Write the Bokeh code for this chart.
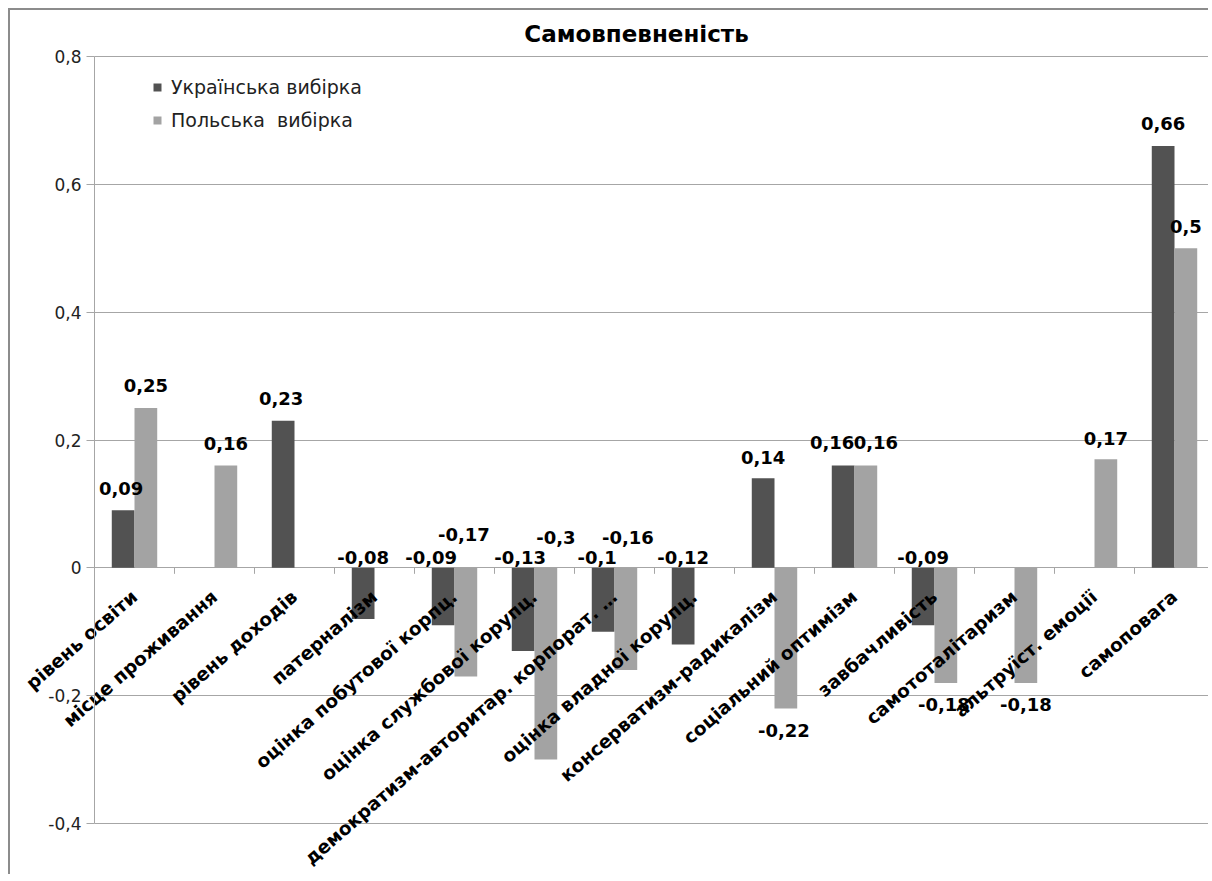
import numpy as np
from bokeh.plotting import figure
from bokeh.models import (Range1d, FixedTicker, CustomJSTickFormatter, ColumnDataSource,
                          Legend, LegendItem, LinearAxis, Label)
from bokeh.core.properties import value
from bokeh.embed import file_html
from bokeh.resources import INLINE

# ---------------- data ----------------
title_text = "Самовпевненість"
categories = ["рівень освіти", "місце проживання", "рівень доходів", "патерналізм",
              "оцінка побутової корпц.", "оцінка службової корупц.",
              "демократизм-авторитар. корпорат. …", "оцінка владної корупц.",
              "консерватизм-радикалізм", "соціальний оптимізм", "завбачливість",
              "самототалітаризм", "альтруїст. емоції", "самоповага"]
series_names = ["Українська вибірка", "Польська  вибірка"]
ukr_values = [0.09, None, 0.23, -0.08, -0.09, -0.13, -0.1, -0.12, 0.14, 0.16, -0.09, None, None, 0.66]
pol_values = [0.25, 0.16, None, None, -0.17, -0.3, -0.16, None, -0.22, 0.16, -0.18, -0.18, 0.17, 0.5]
y_ticks = [-0.4, -0.2, 0, 0.2, 0.4, 0.6, 0.8]

# ---------------- label styling (pixel offsets, anchor choice) ----------------
ukr_lbl_dx = [-2, 0, -2, 0, -12, -3, -6, 0, 0, -11, 0, 0, 0, 0]
ukr_lbl_dy = [-22, 0, -22, -10, -10, -10, -10, -10, -21, -23, -10, 0, 0, -22]
ukr_lbl_zero = [False, False, False, True, True, True, True, True, False, False, True, False, False, False]
pol_lbl_dx = [0, 0, 0, 0, -2, 10, 2, 0, -2, 10, -2, 0, 0, 0]
pol_lbl_dy = [-23, -22, 0, 0, -33, -30, -30, 0, 22, -23, 22, 22, -21, -22]
pol_lbl_zero = [False, False, False, False, True, True, True, False, False, False, False, False, False, False]

UKR_COLOR = "#525252"
POL_COLOR = "#a3a3a3"
GRID_COLOR = "#a6a6a6"
BAR_W = 0.284

# ---------------- layout geometry (pixels on the canvas) ----------------
CANVAS_W, CANVAS_H = 1200, 866
AXIS_X_PX = 84          # y axis line from canvas left
TOP_PX, BOT_PX = 46, 813  # top / bottom value lines from canvas top
CAT_PX = 80             # width of one category

n = len(categories)
centers = np.arange(n) + 0.5

y_lo, y_hi = y_ticks[0], y_ticks[-1]
ppu = (BOT_PX - TOP_PX) / (y_hi - y_lo)
x_start = -AXIS_X_PX / CAT_PX
x_end = (CANVAS_W - AXIS_X_PX) / CAT_PX
y_end = y_hi + TOP_PX / ppu
y_start = y_lo - (CANVAS_H - BOT_PX) / ppu


def fmt(v):
    return f"{v:g}".replace(".", ",")


def series_source(vals, shift, dxs, dys, zero_flags):
    rows = [i for i, v in enumerate(vals) if v is not None]
    return ColumnDataSource(dict(
        x=[centers[i] + shift for i in rows],
        top=[vals[i] for i in rows],
        ly=[0 if zero_flags[i] else vals[i] for i in rows],
        lbl=[fmt(vals[i]) for i in rows],
        dx=[dxs[i] for i in rows],
        dy=[dys[i] for i in rows],
    ))


ukr_src = series_source(ukr_values, -BAR_W / 2, ukr_lbl_dx, ukr_lbl_dy, ukr_lbl_zero)
pol_src = series_source(pol_values, BAR_W / 2, pol_lbl_dx, pol_lbl_dy, pol_lbl_zero)

p = figure(width=CANVAS_W, height=CANVAS_H, output_backend="svg", toolbar_location=None,
           x_range=Range1d(x_start, x_end), y_range=Range1d(y_start, y_end),
           x_axis_location=None, y_axis_location=None,
           min_border=0, min_border_left=0, min_border_right=0,
           min_border_top=0, min_border_bottom=0)
p.styles = {"margin-left": "8px", "margin-top": "8px",
            "border-left": "2px solid #8c8c8c", "border-top": "2px solid #8c8c8c"}
p.outline_line_color = None
p.background_fill_color = "white"
p.border_fill_color = "white"
p.xgrid.visible = False

# horizontal grid limited to the plot area
p.ygrid.ticker = FixedTicker(ticks=y_ticks)
p.ygrid.cross_bounds = (0, x_end)
p.ygrid.grid_line_color = GRID_COLOR
p.ygrid.grid_line_width = 1

# value axis at x = 0
yax = LinearAxis(fixed_location=0, bounds=(y_lo, y_hi), ticker=FixedTicker(ticks=y_ticks),
                 formatter=CustomJSTickFormatter(code="""
    if (Math.abs(tick) < 1e-9) { return "0"; }
    return (Math.round(tick * 10) / 10).toString().replace(".", ",");
"""),
                 major_label_text_font="DejaVu Sans", major_label_text_font_size="17px",
                 major_label_text_color="#222222", major_label_standoff=5,
                 major_tick_out=8, major_tick_in=0, minor_tick_out=0, minor_tick_in=0,
                 axis_line_color=GRID_COLOR, major_tick_line_color=GRID_COLOR)
p.add_layout(yax, "left")

# category axis sitting on the zero line
xax = LinearAxis(fixed_location=0, ticker=FixedTicker(ticks=list(centers)),
                 formatter=CustomJSTickFormatter(args=dict(cats=categories),
                                                 code="return cats[Math.floor(tick)];"),
                 major_label_orientation=np.deg2rad(41),
                 major_label_text_font="DejaVu Sans", major_label_text_font_style="bold",
                 major_label_text_font_size="18.5px", major_label_text_color="#000000",
                 major_label_standoff=26,
                 axis_line_color=None, major_tick_out=0, major_tick_in=0,
                 minor_tick_out=0, minor_tick_in=0)
p.add_layout(xax, "below")

# category boundary ticks below the zero line
bounds = np.arange(n + 1)
p.ray(x=bounds, y=[0] * len(bounds), length=6, length_units="screen",
      angle=-np.pi / 2, line_color=GRID_COLOR, line_width=1)

# bars
r_ukr = p.vbar(x="x", top="top", bottom=0, width=BAR_W, source=ukr_src,
               fill_color=UKR_COLOR, line_color=None)
r_pol = p.vbar(x="x", top="top", bottom=0, width=BAR_W, source=pol_src,
               fill_color=POL_COLOR, line_color=None)

# data labels
for src in (ukr_src, pol_src):
    p.text(x="x", y="ly", text="lbl", x_offset="dx", y_offset="dy", source=src,
           text_font=value("DejaVu Sans"), text_font_style="bold", text_font_size="18px",
           text_color="#000000", text_align="center", text_baseline="middle")

# title
p.add_layout(Label(x=626, y=CANVAS_H - 23, x_units="screen", y_units="screen",
                   text=title_text, text_font="DejaVu Sans", text_font_style="bold",
                   text_font_size="23px", text_color="#000000",
                   text_align="center", text_baseline="middle"))

# legend
legend = Legend(items=[LegendItem(label=series_names[0], renderers=[r_ukr]),
                       LegendItem(label=series_names[1], renderers=[r_pol])],
                location=(142, CANVAS_H - 121), orientation="vertical",
                glyph_width=10, glyph_height=10, label_height=20, spacing=11,
                padding=0, margin=0, label_standoff=9,
                label_text_font="DejaVu Sans", label_text_font_size="19px",
                label_text_color="#222222",
                border_line_color=None, background_fill_alpha=0)
p.add_layout(legend, "center")

open("out.html", "w").write(file_html(p, INLINE))
